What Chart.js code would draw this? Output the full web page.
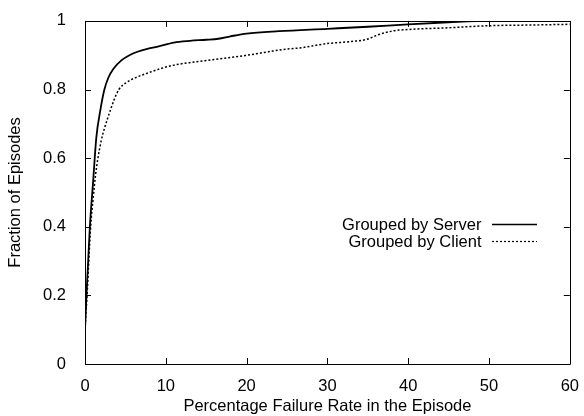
<!DOCTYPE html>
<html>
<head>
<meta charset="utf-8">
<script src="https://cdn.jsdelivr.net/npm/chart.js@4/dist/chart.umd.min.js"></script>
<style>
  html, body { margin: 0; padding: 0; background: #fff; }
  #wrap { width: 584px; height: 416px; }
</style>
</head>
<body>
<div id="wrap"><canvas id="c" width="584" height="416"></canvas></div>
<script>
// ---- data ----
const serverX = [0, 0.2, 0.6, 1.0, 1.4, 1.9, 2.4, 2.9, 3.5, 4.5, 5.5, 6.5, 7.6, 9, 11, 13, 15, 16.5, 18, 20, 24, 30, 35, 40, 45, 50, 60];
const serverY = [0.10, 0.21, 0.40, 0.53, 0.66, 0.74, 0.80, 0.835, 0.86, 0.885, 0.90, 0.91, 0.918, 0.925, 0.937, 0.942, 0.945, 0.948, 0.955, 0.963, 0.970, 0.977, 0.983, 0.990, 0.996, 1.0, 1.0];
const clientX = [0, 0.3, 0.7, 1.0, 1.3, 1.6, 2.0, 2.45, 3.0, 3.6, 4.2, 5.1, 6.5, 8, 9.5, 11.2, 13.5, 16.2, 19.8, 22.7, 24.3, 26.8, 30, 33, 35, 36.2, 38.2, 40, 45, 50, 55, 60];
const clientY = [0.10, 0.22, 0.40, 0.48, 0.55, 0.60, 0.65, 0.69, 0.73, 0.77, 0.80, 0.82, 0.837, 0.85, 0.862, 0.872, 0.88, 0.888, 0.899, 0.910, 0.916, 0.922, 0.934, 0.940, 0.947, 0.959, 0.971, 0.975, 0.980, 0.986, 0.988, 0.990];
const seriesNames = ["Grouped by Server", "Grouped by Client"];
const xTicks = [0, 10, 20, 30, 40, 50, 60];
const yTicks = [0, 0.2, 0.4, 0.6, 0.8, 1];
const yTickLabels = ["0", "0.2", "0.4", "0.6", "0.8", "1"];
const xTitle = "Percentage Failure Rate in the Episode";
const yTitle = "Fraction of Episodes";

const FONT = '"Liberation Sans", Arial, Helvetica, sans-serif';
const FSIZE = 16.5;

function pts(xs, ys) { return xs.map((x, i) => ({ x: x, y: ys[i] })); }

const dashes = [[], [2, 2]];
const widths = [1.8, 1.5];

const frameAndLegend = {
  id: 'frameAndLegend',
  afterDatasetsDraw(chart) {
    const ctx = chart.ctx;
    const a = chart.chartArea;
    const xs = chart.scales.x, ys = chart.scales.y;
    const TL = 6;
    ctx.save();
    ctx.strokeStyle = '#000';
    ctx.lineWidth = 1;
    ctx.setLineDash([]);
    ctx.beginPath();
    ctx.rect(Math.round(a.left) + 0.5, Math.round(a.top) + 0.5, Math.round(a.right - a.left), Math.round(a.bottom - a.top));
    ctx.stroke();
    ctx.beginPath();
    xTicks.forEach(v => {
      const px = Math.round(xs.getPixelForValue(v)) + 0.5;
      ctx.moveTo(px, a.bottom); ctx.lineTo(px, a.bottom - TL);
      ctx.moveTo(px, a.top); ctx.lineTo(px, a.top + TL);
    });
    yTicks.forEach(v => {
      const py = Math.round(ys.getPixelForValue(v)) + 0.5;
      ctx.moveTo(a.left, py); ctx.lineTo(a.left + TL, py);
      ctx.moveTo(a.right, py); ctx.lineTo(a.right - TL, py);
    });
    ctx.stroke();

    // legend (gnuplot style: right-aligned text, sample line to the right)
    const textRight = 481.5, lineL = 492, lineR = 537;
    const rowY = [224, 241];
    ctx.font = FSIZE + 'px ' + FONT;
    ctx.fillStyle = '#000';
    ctx.textAlign = 'right';
    ctx.textBaseline = 'middle';
    seriesNames.forEach((name, i) => {
      ctx.fillText(name, textRight, rowY[i] + 1);
      ctx.beginPath();
      ctx.setLineDash(dashes[i]);
      ctx.lineWidth = i === 0 ? 1.5 : 1.2;
      ctx.moveTo(lineL, rowY[i] + 0.5);
      ctx.lineTo(lineR, rowY[i] + 0.5);
      ctx.stroke();
    });
    ctx.restore();
  }
};

new Chart(document.getElementById('c'), {
  type: 'line',
  data: {
    datasets: [
      {
        label: seriesNames[0],
        data: pts(serverX, serverY),
        borderColor: '#000',
        borderWidth: widths[0],
        borderDash: dashes[0],
        pointRadius: 0,
        fill: false,
        cubicInterpolationMode: 'monotone'
      },
      {
        label: seriesNames[1],
        data: pts(clientX, clientY),
        borderColor: '#000',
        borderWidth: widths[1],
        borderDash: dashes[1],
        pointRadius: 0,
        fill: false,
        cubicInterpolationMode: 'monotone'
      }
    ]
  },
  options: {
    responsive: false,
    animation: false,
    devicePixelRatio: 1,
    layout: { padding: { top: 14, right: 11, left: 0, bottom: 0 } },
    plugins: { legend: { display: false }, tooltip: { enabled: false } },
    font: { family: FONT, size: FSIZE },
    scales: {
      x: {
        type: 'linear',
        min: 0, max: 60,
        grid: { display: false },
        border: { display: false },
        afterBuildTicks: s => { s.ticks = xTicks.map(v => ({ value: v })); },
        afterFit: s => { s.height = 52; },
        ticks: {
          color: '#000',
          padding: 5,
          maxRotation: 0,
          font: { family: FONT, size: FSIZE },
          callback: v => String(v)
        },
        title: {
          display: true,
          text: xTitle,
          color: '#000',
          font: { family: FONT, size: FSIZE },
          padding: { top: 0, bottom: 0 }
        }
      },
      y: {
        type: 'linear',
        min: 0, max: 1,
        grid: { display: false },
        border: { display: false },
        afterBuildTicks: s => { s.ticks = yTicks.map(v => ({ value: v })); },
        afterFit: s => { s.width = 85; },
        ticks: {
          color: '#000',
          padding: 11,
          font: { family: FONT, size: FSIZE },
          callback: (v) => { const i = yTicks.indexOf(v); return i >= 0 ? yTickLabels[i] : ''; }
        },
        title: {
          display: true,
          text: yTitle,
          color: '#000',
          font: { family: FONT, size: FSIZE },
          padding: { top: 6, bottom: 0 }
        }
      }
    }
  },
  plugins: [frameAndLegend]
});
</script>
</body>
</html>
